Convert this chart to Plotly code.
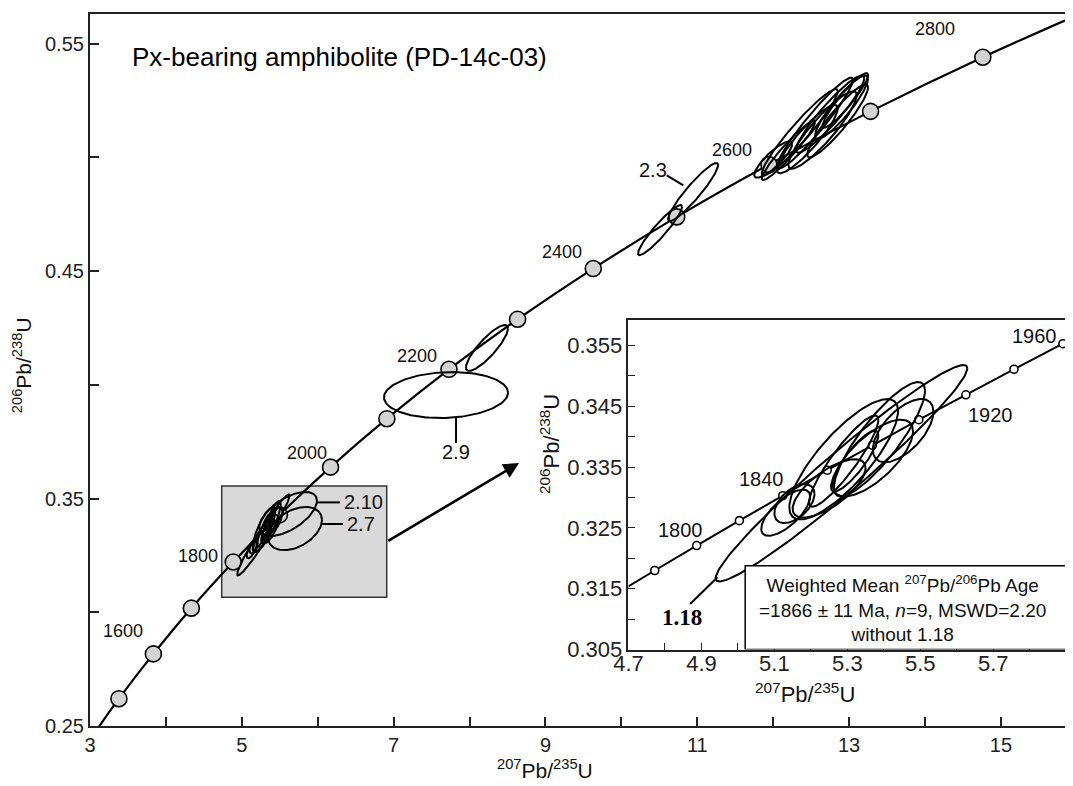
import numpy as np
import plotly.graph_objects as go

# ---------------- data ----------------
# Concordia age markers, main diagram (Ma, 207Pb/235U, 206Pb/238U)
main_ages = [1400, 1500, 1600, 1700, 1800, 1900, 2000, 2100, 2200, 2300, 2400, 2500, 2600, 2700, 2800, 2900]
main_cx = [2.970, 3.381, 3.835, 4.335, 4.887, 5.496, 6.169, 6.911, 7.729, 8.633, 9.630, 10.730, 11.944, 13.283, 14.762, 16.390]
main_cy = [0.2426, 0.2620, 0.2817, 0.3018, 0.3221, 0.3428, 0.3638, 0.3851, 0.4068, 0.4288, 0.4511, 0.4738, 0.4968, 0.5202, 0.5440, 0.5681]

# Concordia age markers, inset (20 Ma steps)
inset_ages = [1760, 1780, 1800, 1820, 1840, 1860, 1880, 1900, 1920, 1940, 1960, 1980]
inset_cx = [4.659, 4.772, 4.887, 5.004, 5.123, 5.245, 5.369, 5.496, 5.625, 5.757, 5.891, 6.029]
inset_cy = [0.3139, 0.3180, 0.3221, 0.3262, 0.3303, 0.3345, 0.3386, 0.3428, 0.3469, 0.3511, 0.3553, 0.3595]

# Analyses used in the weighted mean (+ spot 1.18): centre, 2-sigma half widths, correlation
spot_x   = [5.284, 5.290, 5.388, 5.453, 5.370, 5.131, 5.155, 5.250, 5.290, 5.320]
spot_y   = [0.3340, 0.3363, 0.3396, 0.3410, 0.3365, 0.3275, 0.3290, 0.3315, 0.3360, 0.3360]
spot_sx  = [0.345, 0.149, 0.125, 0.083, 0.110, 0.067, 0.055, 0.100, 0.095, 0.065]
spot_sy  = [0.0178, 0.0099, 0.0094, 0.0052, 0.0063, 0.0038, 0.0032, 0.0048, 0.0075, 0.0050]
spot_rho = [0.97, 0.80, 0.85, 0.60, 0.70, 0.70, 0.50, 0.70, 0.90, 0.85]

# Other analyses (main diagram only)
other_x   = [12.35, 12.55, 12.75, 12.90, 12.45, 12.65, 12.00, 12.85, 12.20, 12.95,
             10.945, 10.51, 8.23, 7.69, 5.61, 5.70]
other_y   = [0.511, 0.515, 0.519, 0.522, 0.508, 0.512, 0.499, 0.516, 0.503, 0.525,
             0.4847, 0.468, 0.4162, 0.3955, 0.3432, 0.3368]
other_sx  = [0.50, 0.50, 0.45, 0.35, 0.40, 0.45, 0.25, 0.40, 0.35, 0.30,
             0.33, 0.29, 0.277, 0.817, 0.38, 0.356]
other_sy  = [0.019, 0.020, 0.017, 0.014, 0.015, 0.017, 0.008, 0.016, 0.013, 0.012,
             0.0128, 0.011, 0.0101, 0.0101, 0.0097, 0.0095]
other_rho = [0.95, 0.95, 0.93, 0.90, 0.90, 0.90, 0.85, 0.92, 0.95, 0.93,
             0.93, 0.93, 0.85, 0.10, 0.60, 0.40]

# Labels
main_label_text = ["1600", "1800", "2000", "2200", "2400", "2600", "2800"]
main_label_x = [3.435, 4.423, 5.859, 7.308, 9.219, 11.455, 14.133]
main_label_y = [0.2918, 0.3247, 0.370, 0.4126, 0.4582, 0.5032, 0.5564]

spot_label_text = ["2.10", "2.7", "2.9", "2.3"]
spot_label_x = [6.32, 6.36, 7.822, 10.42]
spot_label_y = [0.3483, 0.3388, 0.3704, 0.4944]
spot_label_anchor = ["left", "left", "center", "center"]
leader_x0 = [5.99, 6.057, 7.822, 10.598]
leader_y0 = [0.3483, 0.3388, 0.3854, 0.4921]
leader_x1 = [6.294, 6.333, 7.822, 10.817]
leader_y1 = [0.3483, 0.3388, 0.3744, 0.4877]

inset_label_text = ["1800", "1840", "1920", "1960"]
inset_label_x = [4.842, 5.064, 5.693, 5.814]
inset_label_y = [0.3247, 0.3330, 0.3435, 0.3566]

wm_text = ("Weighted Mean <sup>207</sup>Pb/<sup>206</sup>Pb Age<br>"
           "=1866 ± 11 Ma, <i>n</i>=9, MSWD=2.20<br>"
           "without 1.18")

FONT = "Liberation Sans, Arial, sans-serif"


def ellipse(cx, cy, sx, sy, rho, n=160):
    t = np.linspace(0, 2 * np.pi, n)
    x = cx + sx * np.cos(t)
    y = cy + sy * (rho * np.cos(t) + np.sqrt(1 - rho ** 2) * np.sin(t))
    return list(x) + [None], list(y) + [None]


def group(xs, ys, sxs, sys_, rhos):
    X, Y = [], []
    for a, b, c, d, e in zip(xs, ys, sxs, sys_, rhos):
        ex, ey = ellipse(a, b, c, d, e)
        X += ex
        Y += ey
    return X, Y


fig = go.Figure()

# ---- main diagram ----
fig.add_trace(go.Scatter(x=main_cx, y=main_cy, mode="lines", line=dict(color="black", width=2.2, shape="spline"),
                         hoverinfo="skip", showlegend=False))
fig.add_trace(go.Scatter(x=main_cx[1:-1], y=main_cy[1:-1], mode="markers",
                         marker=dict(size=16, color="#d4d4d4", line=dict(color="black", width=1.6)),
                         showlegend=False))
ox, oy = group(other_x, other_y, other_sx, other_sy, other_rho)
fig.add_trace(go.Scatter(x=ox, y=oy, mode="lines", line=dict(color="black", width=2), showlegend=False))
sx_, sy_ = group(spot_x, spot_y, spot_sx, spot_sy, spot_rho)
fig.add_trace(go.Scatter(x=sx_, y=sy_, mode="lines", line=dict(color="black", width=2), showlegend=False))

# ---- inset ----
fig.add_trace(go.Scatter(x=inset_cx, y=inset_cy, mode="lines", line=dict(color="black", width=2, shape="spline"),
                         xaxis="x2", yaxis="y2", showlegend=False))
fig.add_trace(go.Scatter(x=inset_cx[1:-1], y=inset_cy[1:-1], mode="markers",
                         marker=dict(size=8, color="white", line=dict(color="black", width=1.6)),
                         xaxis="x2", yaxis="y2", showlegend=False))
fig.add_trace(go.Scatter(x=sx_, y=sy_, mode="lines", line=dict(color="black", width=2),
                         xaxis="x2", yaxis="y2", showlegend=False))

shapes = []
shapes.append(dict(type="rect", xref="x", yref="y", x0=4.735, x1=6.909, y0=0.3066, y1=0.3555,
                   fillcolor="#d9d9d9", line=dict(color="#333333", width=1.5), layer="below"))
for a, b, c, d in zip(leader_x0, leader_y0, leader_x1, leader_y1):
    shapes.append(dict(type="line", xref="x", yref="y", x0=a, y0=b, x1=c, y1=d,
                       line=dict(color="black", width=2)))
shapes.append(dict(type="rect", xref="x2", yref="y2", x0=5.02, x1=5.905, y0=0.305, y1=0.3188,
                   fillcolor="white", line=dict(color="black", width=1.5)))
shapes.append(dict(type="line", xref="x2", yref="y2", x0=4.869, y0=0.3125, x1=4.944, y1=0.3169,
                   line=dict(color="black", width=2)))

ann = []
ann.append(dict(text="Px-bearing amphibolite (PD-14c-03)", x=3.527, y=0.5441, xref="x", yref="y",
                xanchor="left", yanchor="middle", showarrow=False, font=dict(size=26, color="black", family=FONT)))
for t, x, y in zip(main_label_text, main_label_x, main_label_y):
    ann.append(dict(text=t, x=x, y=y, xref="x", yref="y", showarrow=False,
                    font=dict(size=18, color="#111", family=FONT)))
for t, x, y, a in zip(spot_label_text, spot_label_x, spot_label_y, spot_label_anchor):
    ann.append(dict(text=t, x=x, y=y, xref="x", yref="y", xanchor=a, showarrow=False,
                    font=dict(size=20, color="#111", family=FONT)))
for t, x, y in zip(inset_label_text, inset_label_x, inset_label_y):
    ann.append(dict(text=t, x=x, y=y, xref="x2", yref="y2", showarrow=False,
                    font=dict(size=20, color="#111", family=FONT)))
ann.append(dict(text="<b>1.18</b>", x=4.846, y=0.3102, xref="x2", yref="y2", showarrow=False,
                font=dict(size=23, color="black", family="Liberation Serif, Times New Roman, serif")))
ann.append(dict(text=wm_text, x=5.4514, y=0.3117, xref="x2", yref="y2", showarrow=False, yanchor="middle",
                align="center", font=dict(size=19, color="#111", family=FONT)))
ann.append(dict(text="", x=8.652, y=0.3656, ax=6.909, ay=0.331, xref="x", yref="y", axref="x", ayref="y",
                showarrow=True, arrowhead=2, arrowsize=1.2, arrowwidth=2.6, arrowcolor="black"))
# axis titles
ann.append(dict(text="<sup>207</sup>Pb/<sup>235</sup>U", x=9, y=-0.06, xref="x", yref="paper",
                showarrow=False, yanchor="middle", font=dict(size=21, color="#111", family=FONT)))
ann.append(dict(text="<sup>206</sup>Pb/<sup>238</sup>U", x=-0.069, y=0.4087, xref="paper", yref="y",
                textangle=-90, showarrow=False, xanchor="center", font=dict(size=21, color="#111", family=FONT)))
ann.append(dict(text="<sup>207</sup>Pb/<sup>235</sup>U", x=0.780, y=0.0465, xref="paper", yref="paper",
                showarrow=False, yanchor="middle", font=dict(size=22, color="#111", family=FONT)))
ann.append(dict(text="<sup>206</sup>Pb/<sup>238</sup>U", x=0.468, y=0.323, xref="paper", yref="paper",
                textangle=-90, showarrow=False, font=dict(size=22, color="#111", family=FONT)))

axis_common = dict(showgrid=False, zeroline=False, showline=True, linecolor="#222", ticks="inside",
                   tickcolor="#222")
f_main = dict(size=20, color="#222", family=FONT)
f_ins = dict(size=22, color="#222", family=FONT)

fig.update_layout(
    width=1065, height=778,
    margin=dict(l=82, r=0, t=6, b=60),
    paper_bgcolor="white", plot_bgcolor="white",
    font=dict(family=FONT),
    xaxis=dict(**axis_common, tickfont=f_main, range=[3, 15.95], domain=[0, 1], anchor="y", tick0=3, dtick=2,
               linewidth=2.2, mirror=True, ticklen=9, tickwidth=1.5,
               minor=dict(dtick=1, ticks="inside", ticklen=9, tickwidth=1.5, tickcolor="#222")),
    yaxis=dict(**axis_common, tickfont=f_main, range=[0.25, 0.563], domain=[0, 1], anchor="x", tick0=0.25,
               dtick=0.1, tickformat=".2f", linewidth=2.2, ticklen=9, tickwidth=1.5,
               minor=dict(dtick=0.05, ticks="inside", ticklen=9, tickwidth=1.5, tickcolor="#222")),
    xaxis2=dict(**axis_common, tickfont=f_ins, range=[4.7, 5.905], domain=[0.5478, 0.9949], anchor="y2",
                tick0=4.7, dtick=0.2, tickformat=".1f", linewidth=1.6, mirror=True, ticklen=7, tickwidth=1.4,
                ticklabelstandoff=-7,
                minor=dict(dtick=0.1, ticks="inside", ticklen=7, tickwidth=1.4, tickcolor="#222")),
    yaxis2=dict(**axis_common, tickfont=f_ins, range=[0.305, 0.3592], domain=[0.1074, 0.5702], anchor="x2",
                tick0=0.305, dtick=0.01, tickformat=".3f", linewidth=1.6, mirror=True, ticklen=7, tickwidth=1.4,
                minor=dict(dtick=0.005, ticks="inside", ticklen=7, tickwidth=1.4, tickcolor="#222")),
    shapes=shapes,
    annotations=ann,
)

fig.write_html("out.html")
